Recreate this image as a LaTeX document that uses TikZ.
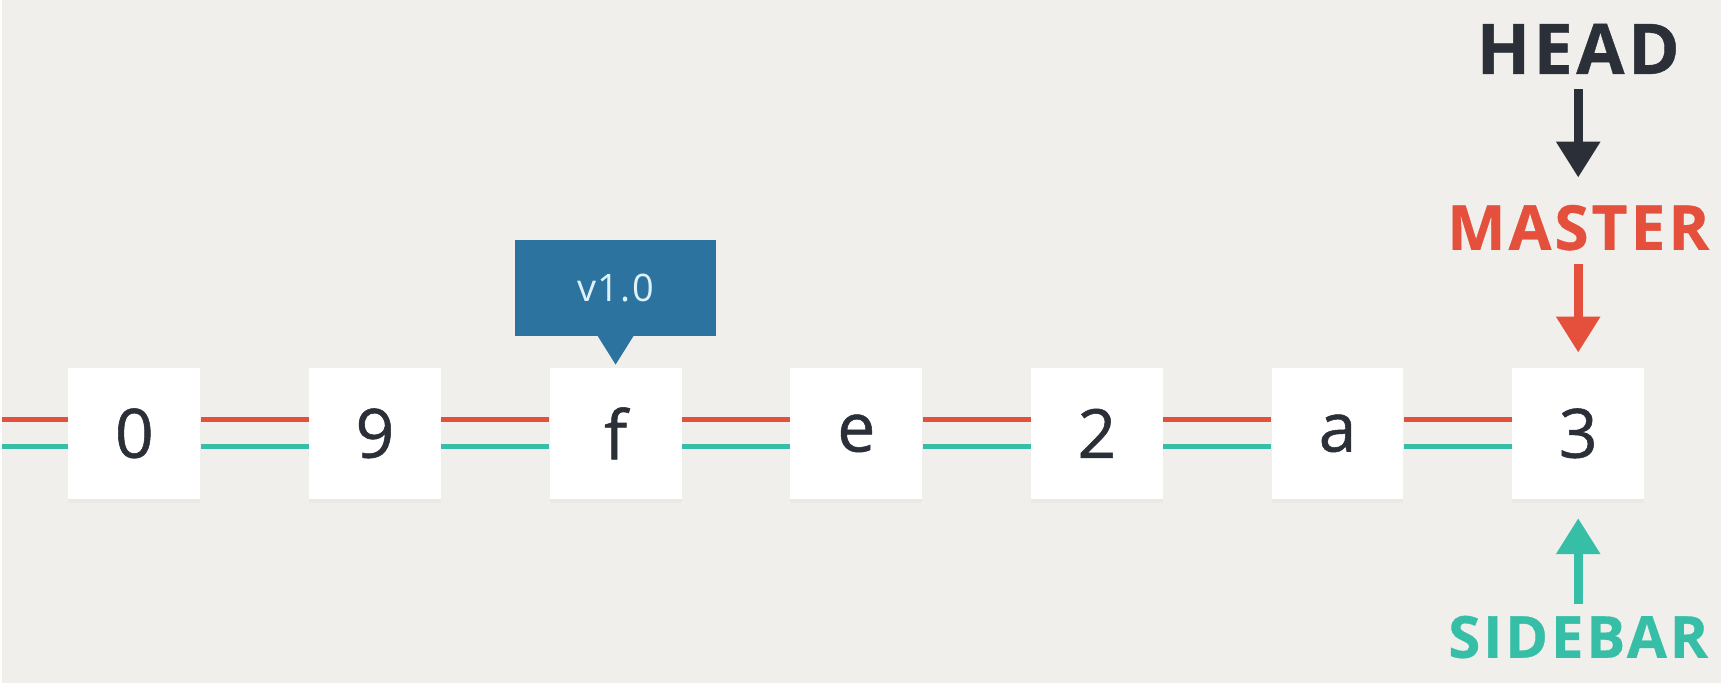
\documentclass[tikz,border=0pt]{standalone}
\usepackage{fontspec}
\setmainfont{Open Sans}
\newfontfamily\spaced[LetterSpace=5,FakeBold=0.6]{Open Sans}
\newfontfamily\tagfont[LetterSpace=4]{Open Sans}
\newfontfamily\commitfont[FakeBold=0.8]{Open Sans}
\usetikzlibrary{arrows.meta,shadows}
\definecolor{bgcol}{HTML}{F0EFEB}
\definecolor{mred}{HTML}{E4503B}
\definecolor{steal}{HTML}{36BFA6}
\definecolor{hdark}{HTML}{2B3038}
\definecolor{tagblue}{HTML}{2C73A0}
\definecolor{tagtext}{HTML}{DDF3FA}

\begin{document}
\begin{tikzpicture}[x=0.5pt,y=-0.5pt,
    commit/.style={fill=white,minimum width=66pt,minimum height=65.5pt,inner sep=0pt,
      text=hdark,font=\commitfont\fontsize{34}{34}\selectfont,
      drop shadow={shadow xshift=0pt,shadow yshift=-2pt,opacity=0.05}},
    ref/.style={inner sep=0pt},
    redline/.style={mred,line width=2.5pt},
    tealline/.style={steal,line width=2.5pt},
    pointer/.style={line width=4.5pt,-{Triangle[width=21pt,length=18pt]}}]
        \fill[bgcol] (0,0) rectangle (1721,684);

        \coordinate (start) at (0,434);
        \node[commit] (c0) at (132,434) {0};
        \node[commit] (c1) at (373,434) {9};
        \node[commit] (c2) at (614,434) {f};
        \node[commit] (c3) at (855,434) {e};
        \node[commit] (c4) at (1096,434) {2};
        \node[commit] (c5) at (1337,434) {a};
        \node[commit] (c6) at (1578,434) {3};

        \foreach \a/\b in {start/c0,c0/c1,c1/c2,c2/c3,c3/c4,c4/c5,c5/c6} {
          \draw[redline] ([yshift=7pt]\a.east) -- ([yshift=7pt]\b.west);
          \draw[tealline] ([yshift=-6.5pt]\a.east) -- ([yshift=-6.5pt]\b.west);
        }

        % tag
        \node[fill=tagblue,minimum width=101pt,minimum height=48pt,text=tagtext,
          font=\tagfont\fontsize{19}{19}\selectfont] (tag) at (614,288) {v1.0};
        \fill[tagblue] ([xshift=-9pt]tag.south) -- ([xshift=9pt]tag.south)
          -- ([yshift=1.5pt]c2.north) -- cycle;

        % refs
        \node[ref,text=hdark,font=\spaced\bfseries\fontsize{35}{35}\selectfont] (head) at (1578,49) {HEAD};
        \node[ref,text=mred,font=\spaced\bfseries\fontsize{31}{31}\selectfont] (master) at (1578,228) {MASTER};
        \node[ref,text=steal,font=\spaced\bfseries\fontsize{29}{29}\selectfont] (sidebar) at (1578,638) {SIDEBAR};

        \draw[pointer,hdark,shorten <=7.5pt,shorten >=13.5pt] (head.south) -- (master.north);
        \draw[pointer,mred,shorten <=6.5pt,shorten >=7.5pt] (master.south) -- (c6.north);
        \draw[pointer,steal,shorten <=5.5pt,shorten >=9.5pt] (sidebar.north) -- (c6.south);
\end{tikzpicture}
\end{document}
